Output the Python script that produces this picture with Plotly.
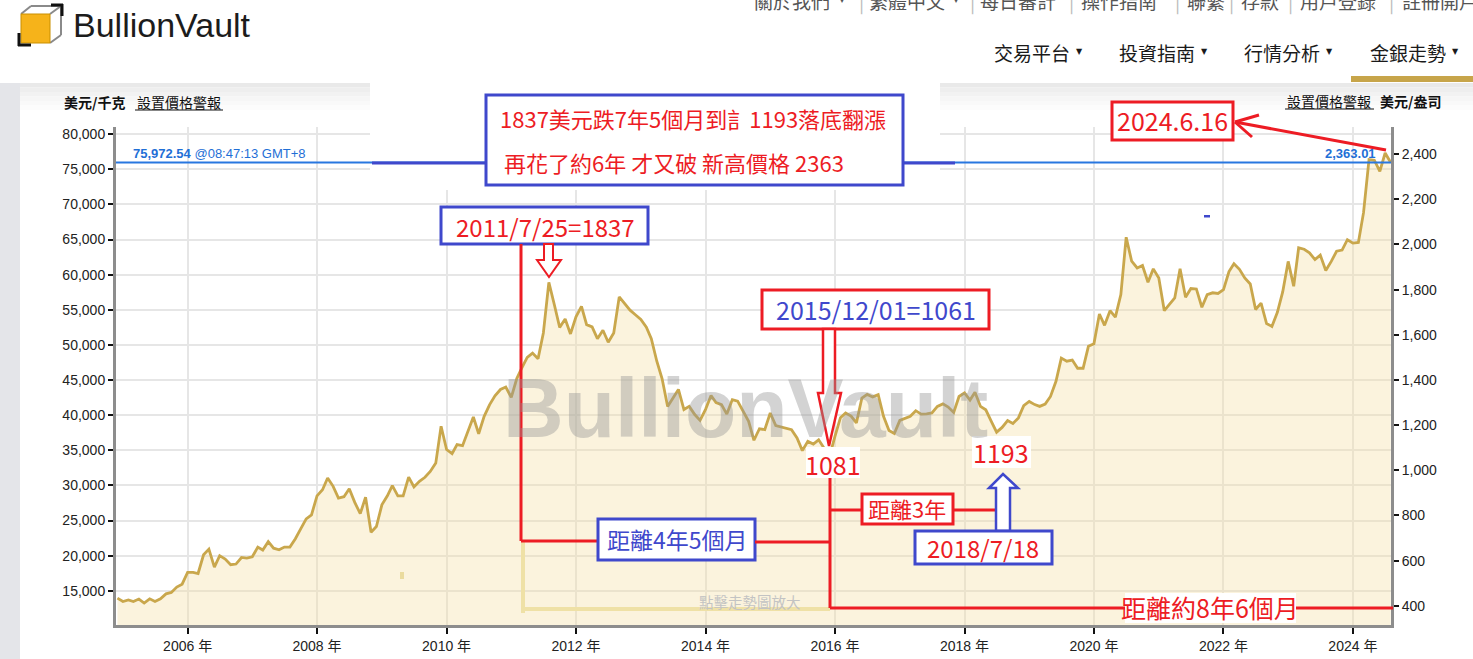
import plotly.graph_objects as go
import pandas as pd

OZ_PER_KG = 32.1507

# monthly gold price, USD per troy ounce (Dec 2004 .. mid 2024)
gold_usd_oz = [
    434,
    419, 426, 419, 430, 412, 431, 419, 431, 453, 459, 483, 496,
    548, 548, 543, 626, 651, 571, 622, 607, 582, 585, 614, 611,
    617, 660, 647, 684, 655, 648, 660, 660, 697, 741, 785, 803,
    887, 914, 966, 929, 877, 883, 918, 858, 808, 881, 726, 751,
    847, 887, 932, 887, 887, 970, 926, 951, 969, 995, 1032, 1195,
    1092, 1074, 1114, 1109, 1173, 1236, 1162, 1239, 1291, 1330, 1358, 1369,
    1323, 1406, 1453, 1500, 1519, 1494, 1608, 1832, 1733, 1633, 1670, 1604,
    1680, 1726, 1645, 1635, 1583, 1620, 1567, 1608, 1768, 1741, 1709, 1689,
    1668, 1634, 1583, 1483, 1405, 1283, 1320, 1358, 1269, 1283, 1247, 1221,
    1270, 1331, 1300, 1291, 1249, 1313, 1306, 1260, 1217, 1133, 1184, 1180,
    1254, 1198, 1192, 1185, 1180, 1143, 1087, 1128, 1116, 1135, 1100, 1061,
    1150, 1233, 1254, 1240, 1210, 1320, 1336, 1325, 1335, 1239, 1176, 1163,
    1221, 1230, 1239, 1264, 1249, 1250, 1254, 1283, 1294, 1280, 1256, 1327,
    1343, 1311, 1346, 1283, 1268, 1217, 1169, 1190, 1220, 1207, 1232, 1286,
    1305, 1291, 1283, 1293, 1327, 1394, 1497, 1483, 1488, 1452, 1452, 1549,
    1560, 1692, 1642, 1707, 1678, 1778, 2032, 1926, 1896, 1907, 1833, 1892,
    1852, 1707, 1734, 1763, 1892, 1766, 1805, 1803, 1722, 1778, 1786, 1783,
    1800, 1880, 1915, 1890, 1852, 1825, 1712, 1740, 1650, 1637, 1700, 1790,
    1925, 1815, 1985, 1979, 1963, 1933, 1953, 1885, 1925, 1970, 1975, 2021,
    2006, 2009, 2141, 2376, 2373, 2324, 2405, 2363,
]
months = pd.date_range("2004-12-01", periods=len(gold_usd_oz), freq="MS")
gold_usd_kg = [v * OZ_PER_KG for v in gold_usd_oz]

kg_ticks = list(range(15000, 80001, 5000))
oz_ticks = list(range(400, 2401, 200))
year_ticks = ["2006-01-01", "2008-01-01", "2010-01-01", "2012-01-01", "2014-01-01",
              "2016-01-01", "2018-01-01", "2020-01-01", "2022-01-01", "2024-01-01"]
year_labels = ["2006 年", "2008 年", "2010 年", "2012 年", "2014 年",
               "2016 年", "2018 年", "2020 年", "2022 年", "2024 年"]

spot_kg = 75972.54
spot_oz = 2363.01
kg_range = [10128, 81026]

top_nav = ["關於我們", "▾", "|", "繁體中文", "▾", "|", "每日審計", "|", "操作指南",
           "|", "聯繫", "|", "存款", "|", "用戶登錄", "|", "註冊開戶"]
top_nav_x = [752, 838, 857, 867, 952, 968, 978, 1067, 1079, 1173, 1185, 1227,
             1239, 1286, 1298, 1387, 1400]
main_nav = ["交易平台", "投資指南", "行情分析", "金銀走勢"]
main_nav_x = [992, 1117, 1242, 1368]

RED = "#ED1C24"
INDIGO = "#3F48CC"
GOLD = "#c9a74c"
UI_FONT = "Liberation Sans, Arial, Noto Sans CJK TC, sans-serif"
CJK_FONT = "Noto Sans CJK TC, Liberation Sans, sans-serif"

# page pixels -> paper coordinates of the plot area
W, H = 1473, 659
L, R, T, B = 116, 1391, 127, 625


def fx(x):
    return (x - L) / (R - L)


def fy(y):
    return (B - y) / (B - T)


shapes = []
annotations = []


def line(x0, y0, x1, y1, color, width, layer="above"):
    shapes.append(dict(type="line", xref="paper", yref="paper",
                       x0=fx(x0), y0=fy(y0), x1=fx(x1), y1=fy(y1),
                       line=dict(color=color, width=width), layer=layer))


def rect(x0, y0, x1, y1, fill, color=None, width=0, layer="above"):
    shapes.append(dict(type="rect", xref="paper", yref="paper",
                       x0=fx(x0), y0=fy(y0), x1=fx(x1), y1=fy(y1),
                       fillcolor=fill,
                       line=dict(color=color or fill, width=width), layer=layer))


def poly(points, color, width, fill="white"):
    d = "M " + " L ".join(f"{fx(x):.5f},{fy(y):.5f}" for x, y in points) + " Z"
    shapes.append(dict(type="path", xref="paper", yref="paper", path=d,
                       fillcolor=fill, line=dict(color=color, width=width),
                       layer="above"))


def text(x, y, s, size, color, anchor="center", family=CJK_FONT):
    annotations.append(dict(xref="paper", yref="paper", x=fx(x), y=fy(y),
                            text=s, showarrow=False, xanchor=anchor,
                            yanchor="middle",
                            font=dict(family=family, size=size, color=color)))


# page background pieces
rect(0, 83, 20, 659, "#e4e5e9", layer="below")
for i, c in enumerate(["#e9e9e9", "#eeeeee", "#f2f2f2", "#f6f6f6", "#f9f9f9", "#fcfcfc"]):
    rect(20, 83 + i * 4.5, W, 87.5 + i * 4.5, c, layer="below")
rect(370, 83, 940, 190, "white")

# logo
line(31, 6, 61, 6, "#8a8a8a", 2)
line(61, 6, 61, 35, "#8a8a8a", 2)
line(50, 43, 61, 35, "#8a8a8a", 2)
line(21, 14, 31, 6, "#8a8a8a", 2)
line(50, 14, 61, 6, "#8a8a8a", 2)
rect(21, 14, 50, 43, "#f6b31a", "#c98f00", 1)
line(19, 33, 19, 46, "#111111", 3)
line(18, 45, 31, 45, "#111111", 3)
line(51, 5, 63, 5, "#111111", 3)
line(62, 4, 62, 16, "#111111", 3)
text(71, 25, "BullionVault", 34, "#1c1c1c", "left", UI_FONT)

for s, x in zip(top_nav, top_nav_x):
    col = "#bbbbbb" if s == "|" else "#555555"
    text(x, 1, s, 8 if s == "▾" else 19, col, "left",
         "DejaVu Sans" if s == "▾" else CJK_FONT)
for s, x in zip(main_nav, main_nav_x):
    text(x, 53, s, 19, "#1a1a1a", "left")
    text(x + 82, 51, "▼", 8, "#1a1a1a", "left", "DejaVu Sans")
rect(1351, 76, W, 82, "#c7a54a")

# axis captions
text(62, 102, "<b>美元/千克</b>", 14, "#111111", "left")
text(135, 102, "設置價格警報", 14, "#111111", "left")
line(135, 110, 223, 110, "#111111", 1)
text(1285, 101, "設置價格警報", 14, "#111111", "left")
text(1378, 101, "<b>美元/盎司</b>", 14, "#111111", "left")
line(1285, 109, 1374, 109, "#111111", 1)

# current price line and labels
shapes.append(dict(type="line", xref="paper", yref="y", x0=0, x1=1,
                   y0=spot_kg, y1=spot_kg, line=dict(color="#2877e0", width=2),
                   layer="above"))
text(131, 153, f"<b>{spot_kg:,.2f}</b> @08:47:13 GMT+8", 13, "#1f6fd6", "left", UI_FONT)
text(1378, 153, f"<b>{spot_oz:,.2f}</b>", 13, "#1f6fd6", "right", UI_FONT)

# faint range-marker leftovers
line(523, 540, 523, 613, "#efe1a6", 4)
line(523, 609, 830, 609, "#efe1a6", 4)
rect(400, 572, 404, 579, "#eadb9e")
rect(1204, 215, 1210, 217.5, INDIGO)

text(750, 601, "點擊走勢圖放大", 14.5, "#c3c3c3")

# watermark
text(745, 408, "<b>BullionVault</b>", 84, "rgba(150,150,150,0.42)", "center", UI_FONT)

# summary box
line(372, 163, 486, 163, INDIGO, 3)
line(903, 163, 955, 163, INDIGO, 3)
rect(486, 95, 903, 185, "white", INDIGO, 3)
text(498, 118, "1837美元跌7年5個月到訁1193落底翻漲", 22, RED, "left")
text(502, 162, "再花了約6年 才又破 新高價格 2363", 22, RED, "left")

# 2011 peak
rect(441, 207, 648, 244, "white", INDIGO, 3)
text(545, 226, "2011/7/25=1837", 24, RED)
poly([(544, 244), (544, 260), (537, 260), (549, 277), (561, 260), (553, 260), (553, 244)], RED, 2)
line(521, 244, 521, 541, RED, 3)
line(521, 541, 598, 541, RED, 3)
rect(598, 519, 755, 560, "white", INDIGO, 3)
text(677, 539, "距離4年5個月", 23, INDIGO)
line(755, 542, 830, 542, RED, 3)

# 2015 low
rect(762, 290, 989, 329, "white", RED, 3)
text(876, 309, "2015/12/01=1061", 25, INDIGO)
poly([(823, 329), (823, 393), (818, 393), (829, 446), (841, 393), (835, 393), (835, 329)], RED, 2.5)
rect(806, 447, 860, 478, "white")
text(833, 464, "1081", 25, RED)
line(830, 478, 830, 608, RED, 3)
line(830, 608, 1393, 608, RED, 3)
rect(1125, 593, 1296, 623, "white")
text(1210, 607, "距離約8年6個月", 25, RED)

# 2018 low
line(830, 510, 862, 510, RED, 3)
line(953, 510, 996, 510, RED, 3)
rect(862, 494, 953, 524, "white", RED, 3)
text(907, 508, "距離3年", 22, RED)
rect(972, 436, 1031, 468, "white")
text(1001, 452, "1193", 25, RED)
poly([(996, 531), (996, 488), (989, 488), (1003, 474), (1018, 488), (1010, 488), (1010, 531)], INDIGO, 2.5)
rect(915, 531, 1052, 564, "white", INDIGO, 3)
text(983, 547, "2018/7/18", 24, RED)

# latest date
rect(1112, 102, 1233, 140, "white", RED, 3)
text(1172, 120, "2024.6.16", 25, RED)
line(1235, 122, 1386, 150, RED, 3)
line(1235, 122, 1259, 115, RED, 3)
line(1235, 122, 1252, 137, RED, 3)

fig = go.Figure()
fig.add_trace(
    go.Scatter(
        x=months,
        y=gold_usd_kg,
        mode="lines",
        line=dict(color=GOLD, width=2.8),
        fill="tozeroy",
        fillcolor="rgba(245,222,160,0.36)",
        hoverinfo="skip",
    )
)
fig.add_trace(
    go.Scatter(
        x=months,
        y=gold_usd_oz,
        yaxis="y2",
        mode="lines",
        line=dict(color="rgba(0,0,0,0)", width=0),
        hoverinfo="skip",
    )
)

axis_common = dict(
    ticks="outside",
    tickwidth=2,
    tickcolor="#111111",
    showline=True,
    linecolor="#8d8d8d",
    linewidth=3,
    zeroline=False,
    automargin=False,
    tickfont=dict(size=14, color="#222222"),
)

fig.update_layout(
    width=W,
    height=H,
    autosize=False,
    margin=dict(l=L, r=W - R, t=T, b=H - B, pad=0),
    paper_bgcolor="white",
    plot_bgcolor="white",
    showlegend=False,
    font=dict(family=UI_FONT, size=14, color="#222222"),
    xaxis=dict(
        type="date",
        range=["2004-11-23", "2024-08-03"],
        tickvals=year_ticks,
        ticktext=year_labels,
        ticklen=6,
        showgrid=True,
        gridcolor="#e6e6e6",
        gridwidth=1.5,
        **axis_common,
    ),
    yaxis=dict(
        range=kg_range,
        tickvals=kg_ticks,
        tickformat=",d",
        ticklen=5,
        showgrid=True,
        gridcolor="#e6e6e6",
        gridwidth=1.5,
        **axis_common,
    ),
    yaxis2=dict(
        overlaying="y",
        side="right",
        range=[v / OZ_PER_KG for v in kg_range],
        tickvals=oz_ticks,
        tickformat=",d",
        ticklen=5,
        showgrid=False,
        **axis_common,
    ),
    shapes=shapes,
    annotations=annotations,
)

# the page body has a default 8px margin; drop it so the figure sits at 0,0
fig.write_html(
    "out.html",
    config={"displayModeBar": False},
    post_script="document.body.style.margin='0px';",
)
